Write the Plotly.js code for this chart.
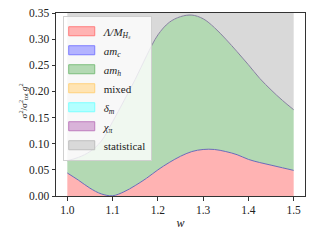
<!DOCTYPE html>
<html>
<head>
<meta charset="utf-8">
<script src="https://cdn.plot.ly/plotly-3.0.1.min.js"></script>
<style>html,body{margin:0;padding:0;background:#fff;}#chart{width:320px;height:240px;}</style>
</head>
<body>
<div id="chart"></div>
<script>
const w = [1.000,1.025,1.050,1.075,1.100,1.125,1.150,1.175,1.200,1.225,1.250,1.275,1.300,1.325,1.350,1.375,1.400,1.425,1.450,1.475,1.500];
const lambdaM = [0.044,0.030,0.015,0.004,0.0005,0.008,0.020,0.034,0.050,0.064,0.076,0.085,0.089,0.089,0.085,0.079,0.070,0.064,0.059,0.054,0.049];
const amC = [0,0,0,0,0,0,0,0,0,0,0,0,0,0,0,0,0,0,0,0,0];
const amH = [0.0235,0.044,0.070,0.101,0.1415,0.174,0.203,0.234,0.258,0.268,0.267,0.261,0.250,0.233,0.215,0.197,0.181,0.161,0.144,0.129,0.116];
const mixed = [0,0,0,0,0,0,0,0,0,0,0,0,0,0,0,0,0,0,0,0,0];
const deltaM = [0,0,0,0,0,0,0,0,0,0,0,0,0,0,0,0,0,0,0,0,0];
const chiPi = [0,0,0,0,0,0,0,0,0,0,0,0,0,0,0,0,0,0,0,0,0];
const statistical = [0.32,0.32,0.32,0.32,0.32,0.32,0.32,0.32,0.32,0.32,0.32,0.32,0.32,0.32,0.32,0.32,0.32,0.32,0.32,0.32,0.32];

const names = ['<i>Λ/M<sub>Hₛ</sub></i>','<i>am<sub>c</sub></i>','<i>am<sub>h</sub></i>','mixed','<i>δ<sub>m</sub></i>','<i>χ<sub>π</sub></i>','statistical'];
const series = [lambdaM, amC, amH, mixed, deltaM, chiPi, statistical];
const fills = ['rgb(255,179,179)','rgb(179,179,255)','rgb(179,217,179)','rgb(255,228,179)','rgb(179,255,255)','rgb(217,179,217)','rgb(217,217,217)'];
const edges = ['rgb(255,125,125)','rgb(125,125,255)','rgb(125,190,125)','rgb(255,210,125)','rgb(125,255,255)','rgb(190,125,190)','rgb(190,190,190)'];

const traces = series.map((s,i)=>({
  x: w, y: s, name: names[i], type:'scatter', mode:'lines',
  stackgroup:'one', fillcolor: fills[i],
  line:{width:0, shape:'spline', color: fills[i]}
}));

const cum1 = w.map((_,k)=>lambdaM[k]+amC[k]);
const cum2 = w.map((_,k)=>lambdaM[k]+amC[k]+amH[k]+mixed[k]+deltaM[k]+chiPi[k]);
traces.push({x:w, y:cum1, type:'scatter', mode:'lines', showlegend:false, hoverinfo:'skip',
  line:{width:1, shape:'spline', color:'#6a6ab8'}});
traces.push({x:w, y:cum2, type:'scatter', mode:'lines', showlegend:false, hoverinfo:'skip',
  line:{width:1, shape:'spline', color:'#85809f'}});

const fam = '"Times New Roman", "Liberation Serif", serif';
const layout = {
  width:320, height:240,
  margin:{l:56, r:15, t:13, b:44},
  paper_bgcolor:'#fff', plot_bgcolor:'#fff',
  font: {family:fam, size:11.5, color:'#222'},
  showlegend:true,
  legend:{x:0.027, y:0.985, xanchor:'left', yanchor:'top',
    bgcolor:'rgba(255,255,255,0.8)', bordercolor:'#d0d0d0', borderwidth:1,
    font:{family:fam, size:11, color:'#222'}, traceorder:'normal'},
  xaxis:{range:[0.975,1.525], dtick:0.1, tick0:1.0, tickformat:'.1f',
    showgrid:false, zeroline:false, showline:true, mirror:true, linecolor:'#333', linewidth:1,
    ticks:'outside', ticklen:3.5, tickcolor:'#333',
    title:{text:'<i>w</i>', font:{family:fam, size:12}, standoff:3}},
  yaxis:{range:[0,0.35], dtick:0.05, tickformat:'.2f',
    showgrid:false, zeroline:false, showline:true, mirror:true, linecolor:'#333', linewidth:1,
    ticks:'outside', ticklen:3.5, tickcolor:'#333'},
  annotations:[{text:'σ<sup>2</sup>/σ<sup>2</sup><sub>tot</sub> <i>g</i><sup>2</sup>', textangle:-90,
    xref:'paper', yref:'paper', x:-0.13, y:0.52, xanchor:'center', yanchor:'middle', showarrow:false,
    font:{family:fam, size:9, color:'#222'}}]
};
Plotly.newPlot('chart', traces, layout, {staticPlot:true, displayModeBar:false}).then(gd=>{
  gd.querySelectorAll('.legend .traces').forEach((g,i)=>{
    const f = g.querySelector('.legendfill path');
    if (f) {
      f.setAttribute('d','M5,-4.5h26v9h-26z');
      f.style.fill = fills[i];
      f.style.fillOpacity = '1';
      f.style.opacity = '1';
      f.style.stroke = edges[i];
      f.style.strokeWidth = '1px';
    }
    g.querySelectorAll('.legendlines path').forEach(p=>p.style.display='none');
  });
});
</script>
</body>
</html>
